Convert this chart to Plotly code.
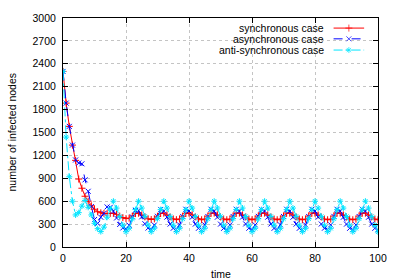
import plotly.graph_objects as go

time = list(range(0, 101))

synchronous = [
    2300, 1885, 1580, 1335, 1135, 890, 770, 665, 600, 540, 495, 462, 448, 440, 438, 440,
    440, 428, 405, 385, 372, 378, 405, 438,
    442, 420, 395, 370, 360, 368, 402, 440,
    443, 421, 394, 368, 358, 367, 403, 442,
    444, 422, 395, 368, 357, 366, 404, 444,
    444, 422, 394, 367, 357, 366, 404, 445,
    444, 421, 394, 367, 357, 366, 405, 445,
    443, 421, 394, 367, 357, 366, 405, 445,
    443, 421, 393, 367, 357, 365, 405, 446,
    443, 420, 393, 366, 357, 365, 405, 446,
    443, 420, 393, 366, 357, 365, 405, 446,
    443, 420, 393, 366, 357,
]

asynchronous = [
    2300, 1885, 1580, 1335, 1140, 1100, 1090, 880, 730, 530, 360, 310, 390, 440, 525, 520,
    470, 380, 295, 250, 235, 285, 395, 480,
    475, 395, 305, 248, 230, 288, 402, 492,
    470, 392, 300, 246, 228, 290, 400, 495,
    472, 390, 300, 245, 228, 290, 400, 495,
    470, 390, 300, 245, 228, 290, 400, 495,
    470, 392, 302, 246, 228, 290, 401, 494,
    471, 391, 301, 245, 227, 291, 400, 495,
    470, 390, 300, 245, 228, 290, 400, 495,
    471, 391, 301, 246, 228, 290, 401, 494,
    470, 390, 300, 245, 228, 290, 400, 495,
    470, 390, 300, 245, 226,
]

anti_synchronous = [
    2300, 1440, 920, 600, 420, 450, 535, 610, 520, 420, 310, 240, 202, 260, 390, 500,
    600, 510, 400, 285, 200, 245, 370, 490,
    600, 510, 402, 286, 200, 246, 372, 490,
    600, 510, 400, 284, 200, 245, 370, 490,
    600, 510, 400, 285, 200, 245, 370, 490,
    600, 511, 401, 285, 200, 246, 371, 491,
    600, 510, 400, 285, 200, 245, 370, 490,
    600, 510, 400, 285, 200, 245, 370, 490,
    600, 510, 401, 286, 200, 245, 370, 490,
    600, 510, 400, 285, 200, 245, 370, 490,
    600, 510, 400, 285, 200, 245, 370, 490,
    600, 510, 400, 285, 198,
]

series_names = ["synchronous case", "asynchronous case", "anti-synchronous case"]
series_values = [synchronous, asynchronous, anti_synchronous]
colors = ["#ff0000", "#0000ff", "#00e5ff"]
dashes = ["solid", "dash", "dashdot"]
symbols = ["cross-thin-open", "x-thin-open", "asterisk-open"]

x_ticks = [0, 20, 40, 60, 80, 100]
y_ticks = list(range(0, 3001, 300))

FONT = "Liberation Sans, Arial, sans-serif"
FS = 10.5

fig = go.Figure()
for name, vals, c, d, s in zip(series_names, series_values, colors, dashes, symbols):
    fig.add_trace(go.Scatter(
        x=time, y=vals, mode="lines+markers", name=name, showlegend=False,
        line=dict(color=c, width=1, dash=d),
        marker=dict(symbol=s, size=5, color=c, line=dict(color=c, width=1)),
    ))

# manual gnuplot-style legend (text right, sample on the right)
leg_y = [0.956, 0.909, 0.860]
for name, c, d, s, ly in zip(series_names, colors, dashes, symbols, leg_y):
    fig.add_trace(go.Scatter(
        x=[0.859, 0.9075, 0.956], y=[ly, ly, ly], xaxis="x2", yaxis="y2",
        mode="lines+markers", showlegend=False, hoverinfo="skip",
        line=dict(color=c, width=1, dash=d),
        marker=dict(symbol=s, size=[0, 5, 0], color=c, line=dict(color=c, width=1)),
    ))
    fig.add_annotation(x=0.834, y=ly, xref="x2", yref="y2", text=name, showarrow=False,
                       xanchor="right", yanchor="middle",
                       font=dict(family=FONT, size=FS, color="black"))

axis_common = dict(
    showline=True, linecolor="black", linewidth=1, mirror="ticks",
    ticks="inside", ticklen=5, tickcolor="black", tickwidth=1,
    showgrid=True, gridcolor="#c4c4c4", griddash="dot", gridwidth=1,
    zeroline=False, tickfont=dict(family=FONT, size=FS, color="black"),
)

fig.update_layout(
    width=399, height=280,
    margin=dict(l=63, r=17, t=13, b=33),
    plot_bgcolor="white", paper_bgcolor="white",
    xaxis=dict(range=[0, 100], tickvals=x_ticks, ticklabelstandoff=1, **axis_common),
    yaxis=dict(range=[0, 3000], tickvals=y_ticks, ticklabelstandoff=4, **axis_common),
    xaxis2=dict(range=[0, 1], overlaying="x", visible=False, fixedrange=True),
    yaxis2=dict(range=[0, 1], overlaying="y", visible=False, fixedrange=True),
    font=dict(family=FONT, size=FS, color="black"),
)

fig.add_annotation(x=0.5, y=0, xref="paper", yref="paper", text="time", showarrow=False,
                   xanchor="center", yanchor="middle", yshift=-27,
                   font=dict(family=FONT, size=FS, color="black"))
fig.add_annotation(x=0, y=0.5, xref="paper", yref="paper", text="number of infected nodes",
                   showarrow=False, textangle=-90, xanchor="center", yanchor="middle",
                   xshift=-52, font=dict(family=FONT, size=FS, color="black"))

fig.write_html("out.html", config={"displayModeBar": False},
               post_script="document.body.style.margin='0px';document.body.style.padding='0px';")
